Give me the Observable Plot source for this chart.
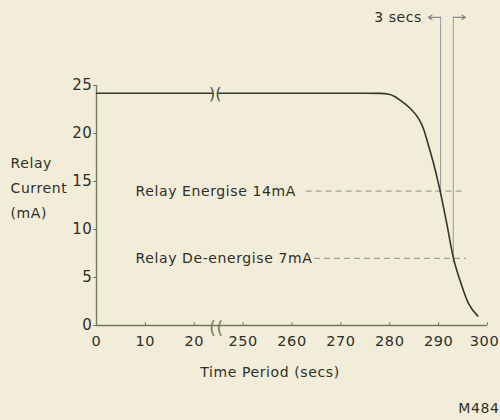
<!DOCTYPE html>
<html><head><meta charset="utf-8">
<script src="https://cdn.jsdelivr.net/npm/d3@7"></script>
<script src="https://cdn.jsdelivr.net/npm/@observablehq/plot@0.6"></script>
<style>
body{margin:0;background:#f2edd9;}
svg{font-family:"DejaVu Sans",sans-serif;}
svg text{letter-spacing:0.6px;}
</style>
</head><body><div id="chart"></div>
<script>
// relay current curve (time in real seconds, current in mA)
const timeSecs = [0, 23.7, 245.0, 270, 275, 278, 279.8, 281.0, 282.2, 284.2, 285.9, 286.9, 287.9, 288.9, 290.2, 291.6, 293.0, 294.5, 296.1, 298.0];
const currentMA = [24.2, 24.2, 24.2, 24.2, 24.2, 24.18, 24.08, 23.85, 23.45, 22.6, 21.55, 20.5, 18.8, 17.0, 14.25, 10.8, 7.1, 4.5, 2.3, 1.0];

// x tick positions (real seconds) and labels
const xTickSecs = [0, 10, 20, 250, 260, 270, 280, 290, 300];
const xTickLabels = ["0", "10", "20", "250", "260", "270", "280", "290", "300"];
const yTicks = [0, 5, 10, 15, 20, 25];

// thresholds
const thresholdLabels = ["Relay Energise 14mA", "Relay De-energise 7mA"];
const thresholdValues = [14, 7];
const thresholdDashFrom = [262.9, 264.6];
const thresholdDashTo = [295.1, 295.7];
const thresholdCrossSecs = [290.4, 293.0];
const markerTop = 32.1;
const spanLabel = "3 secs";

// axis break (real seconds on each side of the gap)
const breakLeftSecs = 23.7;
const breakRightSecs = 245.0;
const bottomBreakSecs = [23.8, 245.3];

const GAP = 220;
const brk = t => t <= 100 ? t : t - GAP;

const curve = timeSecs.map((t, i) => ({t, v: currentMA[i], seg: t <= 100 ? "a" : "b"}));
const thr = thresholdLabels.map((label, i) => ({
  label, v: thresholdValues[i], from: thresholdDashFrom[i], to: thresholdDashTo[i], cross: thresholdCrossSecs[i]
}));
const xTicks = xTickSecs.map((t, i) => ({t, label: xTickLabels[i], last: i === xTickSecs.length - 1}));

const ink = "#2f2f28";
const axisCol = "#6f7a5a";
const plot = Plot.plot({
  width: 500, height: 420,
  marginLeft: 96, marginRight: 13, marginTop: 85, marginBottom: 95,
  style: {background: "#f2edd9", color: ink, fontSize: "14px", fontFamily: "DejaVu Sans, sans-serif"},
  x: {type: "linear", domain: [0, 80], axis: null},
  y: {type: "linear", domain: [0, 25], axis: null},
  marks: [
    // axes lines
    Plot.ruleY([0], {x1: 0, x2: 80, stroke: axisCol, strokeWidth: 1.4}),
    Plot.ruleX([0], {y1: 0, y2: 25, stroke: axisCol, strokeWidth: 1.4}),
    Plot.ruleX(xTicks, {x: d => brk(d.t), y1: 0, y2: 0.3, stroke: axisCol, strokeWidth: 1}),
    Plot.text(xTicks, {filter: d => !d.last, x: d => brk(d.t), y: 0, text: "label", dy: 16, fill: ink, fontSize: 14.5}),
    Plot.text(xTicks, {filter: d => d.last, x: d => brk(d.t), y: 0, text: "label", dy: 16, dx: -3, fill: ink, fontSize: 14.5}),
    Plot.text(yTicks, {x: 0, y: d => d, text: d => String(d), textAnchor: "end", dx: -4, fill: ink, fontSize: 15}),
    Plot.ruleY(yTicks, {y: d => d, x1: -0.6, x2: 0, stroke: axisCol, strokeWidth: 1}),
    // axis break marks
    Plot.text([breakLeftSecs, breakRightSecs], {x: d => brk(d), y: currentMA[0], text: (d, i) => i === 0 ? ")" : "(", fill: "#4a5038", fontSize: 16, dy: 1}),
    Plot.text(bottomBreakSecs, {x: d => brk(d), y: 0, text: ["(", "("], fill: axisCol, fontSize: 17, dy: 3}),
    // threshold dashes and labels
    Plot.ruleY(thr, {y: "v", x1: d => brk(d.from), x2: d => brk(d.to), stroke: "#8d8d84", strokeWidth: 1, strokeDasharray: "6,4"}),
    Plot.text(thr, {x: 8, y: "v", text: "label", textAnchor: "start", fill: ink, fontSize: 14}),
    // timing verticals
    Plot.ruleX(thr, {x: d => brk(d.cross), y1: markerTop, y2: d => d.v - 0.5, stroke: "#9a9aa0", strokeWidth: 1}),
    Plot.arrow(thr, {x1: d => brk(d.cross), x2: (d, i) => brk(d.cross) + (i === 0 ? -2.5 : 2.5), y1: markerTop, y2: markerTop, stroke: "#8a8a90", strokeWidth: 1.3, headLength: 5, bend: false}),
    Plot.text([spanLabel], {x: brk(thresholdCrossSecs[0]) - 3.8, y: markerTop, text: d => d, textAnchor: "end", fill: ink, fontSize: 14}),
    // curve
    Plot.line(curve, {x: d => brk(d.t), y: "v", z: "seg", curve: "monotone-x", stroke: "#33362a", strokeWidth: 1.6}),
    // labels
    Plot.text(["Relay\nCurrent\n(mA)"], {frameAnchor: "left", y: 14.3, dx: -86, dy: -3, textAnchor: "start", lineHeight: 1.8, fill: ink, fontSize: 14}),
    Plot.text(["Time Period (secs)"], {frameAnchor: "bottom", dx: -22, dy: 51, fill: ink, fontSize: 14}),
    Plot.text(["M484"], {frameAnchor: "bottom-right", dx: 12, dy: 87, textAnchor: "end", fill: ink, fontSize: 14})
  ]
});
document.getElementById("chart").append(plot);
</script>
</body></html>
